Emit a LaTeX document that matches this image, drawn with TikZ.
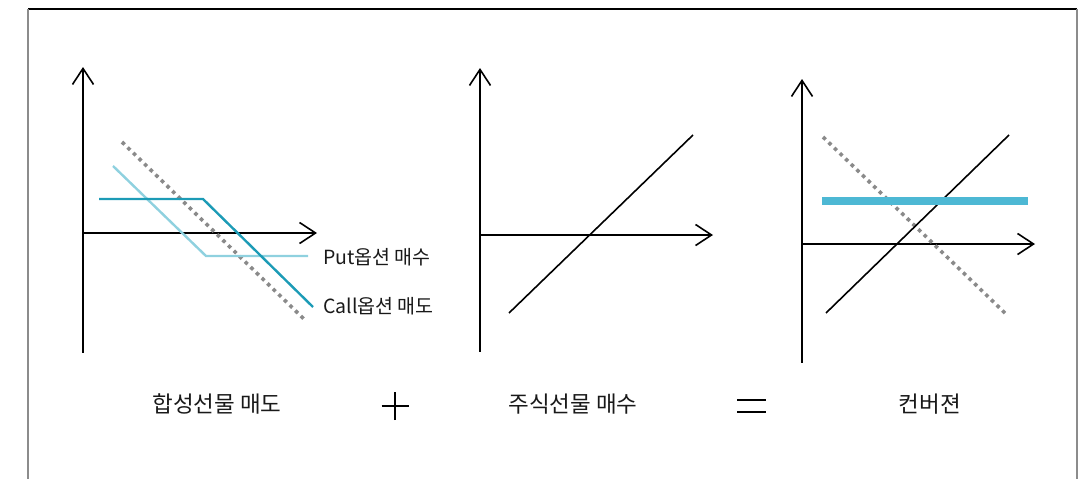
\documentclass[tikz,border=0pt]{standalone}
\usepackage{fontspec}
\newfontfamily\kr{Noto Sans CJK KR}
\usetikzlibrary{arrows.meta}
\definecolor{putc}{HTML}{8FD1DF}
\definecolor{callc}{HTML}{1C9BB6}
\definecolor{barc}{HTML}{4DB8D4}
\definecolor{dotc}{HTML}{8A8A8A}
\definecolor{framec}{HTML}{8C8C8C}
\tikzset{
  axis/.style={line width=1.6pt, black, -{Straight Barb[length=16pt,width=21pt,line width=1.6pt]}},
  dotline/.style={line width=3.6pt, dotc, dash pattern=on 3.6pt off 4.2pt},
  putline/.style={line width=2.4pt, putc},
  callline/.style={line width=2.4pt, callc},
  blkline/.style={line width=1.6pt, black},
  barline/.style={line width=8pt, barc},
  lbl/.style={font=\kr\fontsize{19.5}{22}\selectfont, anchor=west, inner sep=0pt, text=black!90},
  captext/.style={font=\kr\fontsize{22.5}{26}\selectfont, inner sep=0pt, text=black!90},
  opline/.style={line width=2.6pt, black}
}
\begin{document}
\begin{tikzpicture}[x=1pt,y=-1pt]
\useasboundingbox (0,0) rectangle (1079,479);
% frame
\draw[line width=1.6pt, black] (28,9) -- (1077,9);
\draw[line width=2.4pt, framec] (28,9) -- (28,479);
\draw[line width=2.4pt, framec] (1077,9) -- (1077,479);

% ---------- panel 1 ----------
\coordinate (o1) at (83,233);
\coordinate (y1t) at (83,67);
\coordinate (y1b) at (83,353);
\coordinate (x1t) at (317,233);
\draw[line width=1.6pt] (o1) -- (y1b);
\draw[axis] (o1) -- (y1t);
\draw[axis] (o1) -- (x1t);
\coordinate (d1a) at (122,142);
\coordinate (d1b) at (305,320);
\draw[dotline] (d1a) -- (d1b);
\coordinate (p1a) at (113,166);
\coordinate (p1b) at (206,256);
\coordinate (p1c) at (308,256);
\draw[putline] (p1a) -- (p1b) -- (p1c);
\coordinate (c1a) at (99,199);
\coordinate (c1b) at (203,199);
\coordinate (c1c) at (313,307);
\draw[callline] (c1a) -- (c1b) -- (c1c);
\node[lbl] (putlbl) at (323,257) {Put옵션 매수};
\node[lbl] (calllbl) at (323,306) {Call옵션 매도};

% ---------- panel 2 ----------
\coordinate (o2) at (480,235);
\coordinate (y2t) at (480,68);
\coordinate (y2b) at (480,352);
\coordinate (x2t) at (713,235);
\draw[line width=1.6pt] (o2) -- (y2b);
\draw[axis] (o2) -- (y2t);
\draw[axis] (o2) -- (x2t);
\coordinate (s2a) at (509,313);
\coordinate (s2b) at (693,135);
\draw[blkline] (s2a) -- (s2b);

% ---------- panel 3 ----------
\coordinate (o3) at (802,244);
\coordinate (y3t) at (802,79);
\coordinate (y3b) at (802,363);
\coordinate (x3t) at (1035,244);
\draw[line width=1.6pt] (o3) -- (y3b);
\draw[axis] (o3) -- (y3t);
\draw[axis] (o3) -- (x3t);
\coordinate (d3a) at (823,137);
\coordinate (d3b) at (1007,315);
\draw[dotline] (d3a) -- (d3b);
\coordinate (s3a) at (826,313);
\coordinate (s3b) at (1009,135);
\draw[blkline] (s3a) -- (s3b);
\coordinate (b3a) at (822,201);
\coordinate (b3b) at (1028,201);
\draw[barline] (b3a) -- (b3b);

% ---------- captions ----------
\node[captext] (cap1) at (217,404) {합성선물 매도};
\node[captext] (cap2) at (573,404) {주식선물 매수};
\node[captext] (cap3) at (930,404) {컨버젼};
\coordinate (plc) at (395,406);
\draw[opline] ([xshift=-13.5pt]plc) -- ([xshift=13.5pt]plc);
\draw[opline] ([yshift=-14pt]plc) -- ([yshift=14pt]plc);
\coordinate (eqc) at (751.5,406);
\draw[opline] ([xshift=-14.5pt,yshift=-6pt]eqc) -- ([xshift=14.5pt,yshift=-6pt]eqc);
\draw[opline] ([xshift=-14.5pt,yshift=6pt]eqc) -- ([xshift=14.5pt,yshift=6pt]eqc);
\end{tikzpicture}
\end{document}
